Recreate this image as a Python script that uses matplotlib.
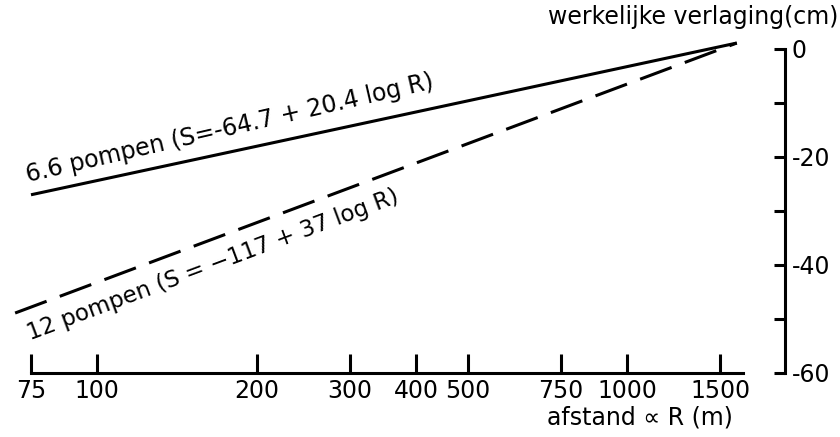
import numpy as np
import matplotlib
matplotlib.use("Agg")
import matplotlib.pyplot as plt
from matplotlib.ticker import FixedLocator, FixedFormatter, NullLocator

# Distance R (m) and drawdown S (cm) at the ends of each straight line (log R)
r_66 = [75, 1610]
s_66 = [-27.0, 1.1]
r_12 = [70, 1610]
s_12 = [-48.9, 1.1]

# Axis ticks
x_ticks = [75, 100, 200, 300, 400, 500, 750, 1000, 1500]
x_tick_labels = ["75", "100", "200", "300", "400", "500", "750", "1000", "1500"]
y_ticks = [0, -10, -20, -30, -40, -50, -60]
y_tick_labels = ["0", "", "-20", "", "-40", "", "-60"]

label_66 = "6.6 pompen (S=-64.7 + 20.4 log R)"
label_12 = "12 pompen (S = \u2212117 + 37 log R)"


def plot_drawdown():
    lw = 2.2
    fs = 17
    fig = plt.figure(figsize=(8.4, 4.37), dpi=100)
    ax = fig.add_axes([0.0, 0.1465, 0.9345, 0.8078])

    ax.set_xscale("log")
    ax.set_xlim(65.55, 1985)
    ax.set_ylim(-60, 5.37)

    # the two drawdown lines
    ax.plot(r_66, s_66, color="black", linewidth=lw, solid_capstyle="butt")
    ax.plot(r_12, s_12, color="black", linewidth=lw, linestyle=(0, (11, 4.6)))

    # line labels, written along the lines
    ax.text(74, -24.6, label_66, rotation=13, rotation_mode="anchor",
            ha="left", va="baseline", fontsize=fs)
    ax.text(74.7, -54.0, label_12, rotation=20.5, rotation_mode="anchor",
            ha="left", va="baseline", fontsize=16.5)

    # spines: only bottom (x) and right (y)
    ax.spines["top"].set_visible(False)
    ax.spines["left"].set_visible(False)
    ax.spines["bottom"].set_linewidth(lw)
    ax.spines["right"].set_linewidth(lw)
    ax.spines["bottom"].set_bounds(75, 1654)
    ax.spines["right"].set_bounds(-60, 0)

    ax.xaxis.set_major_locator(FixedLocator(x_ticks))
    ax.xaxis.set_major_formatter(FixedFormatter(x_tick_labels))
    ax.xaxis.set_minor_locator(NullLocator())
    ax.tick_params(axis="x", direction="in", length=14, width=lw, pad=4,
                   labelsize=fs)

    ax.yaxis.tick_right()
    ax.yaxis.set_major_locator(FixedLocator(y_ticks))
    ax.yaxis.set_major_formatter(FixedFormatter(y_tick_labels))
    ax.tick_params(axis="y", direction="in", length=8, width=lw, pad=5,
                   labelsize=fs)

    # axis titles
    fig.text(838 / 840, 1 - 17 / 437, "werkelijke verlaging(cm)",
             ha="right", va="center", fontsize=fs)
    fig.text(640 / 840, 1 - 418 / 437, "afstand \u221d R (m)",
             ha="center", va="center", fontsize=fs)

    fig.savefig("out.png", dpi=100)


def main():
    plot_drawdown()


if __name__ == "__main__":
    main()
